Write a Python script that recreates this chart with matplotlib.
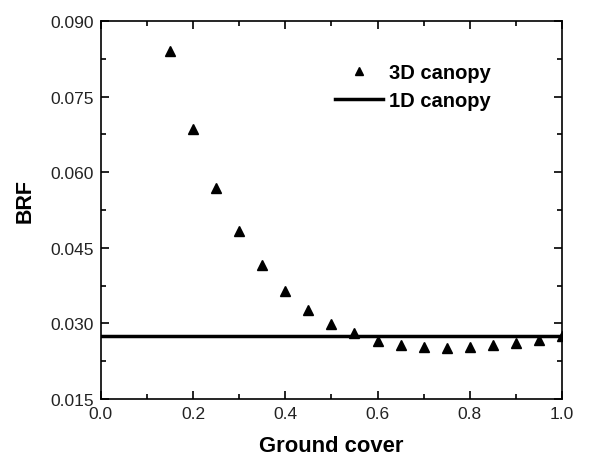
import numpy as np
import matplotlib.pyplot as plt
from matplotlib.ticker import MultipleLocator

plt.rcParams['font.family'] = ['Liberation Sans', 'DejaVu Sans']

ground_cover = [0.15, 0.20, 0.25, 0.30, 0.35, 0.40, 0.45, 0.50, 0.55,
                0.60, 0.65, 0.70, 0.75, 0.80, 0.85, 0.90, 0.95, 1.00]
brf_3d = [0.0841, 0.0686, 0.0569, 0.0483, 0.0416, 0.0364, 0.0327, 0.0299, 0.0280,
          0.0266, 0.0257, 0.0253, 0.0251, 0.0253, 0.0257, 0.0261, 0.0268, 0.0275]
brf_1d = 0.0275

fig = plt.figure(figsize=(5.9, 4.56), dpi=100)
ax = fig.add_axes([0.171, 0.1228, 0.7815, 0.829])

ax.plot(ground_cover, brf_3d, '^', color='black', markersize=7, label='3D canopy')
ax.axhline(brf_1d, color='black', lw=2.5, label='1D canopy')

ax.set_xlim(0.0, 1.0)
ax.set_ylim(0.015, 0.090)
ax.xaxis.set_major_locator(MultipleLocator(0.2))
ax.xaxis.set_minor_locator(MultipleLocator(0.1))
ax.yaxis.set_major_locator(MultipleLocator(0.015))
ax.yaxis.set_minor_locator(MultipleLocator(0.0075))
ax.xaxis.set_major_formatter(plt.FuncFormatter(lambda v, p: '%.1f' % v))
ax.yaxis.set_major_formatter(plt.FuncFormatter(lambda v, p: '%.3f' % v))
ax.tick_params(which='both', direction='in', top=True, right=True, labelsize=12.5,
               width=1.2, labelcolor='#222222')
ax.tick_params(which='major', length=6, pad=5)
ax.tick_params(which='minor', length=3.5)
for s in ax.spines.values():
    s.set_linewidth(1.2)

ax.set_xlabel('Ground cover', fontsize=15.8, fontweight='bold', va='center')
ax.xaxis.set_label_coords(0.5, -0.124)
ax.set_ylabel('BRF', fontsize=15.5, fontweight='bold', va='center')
ax.yaxis.set_label_coords(-0.164, 0.526)

leg = ax.legend(loc='upper left', bbox_to_anchor=(0.5076, 0.889), frameon=False,
                prop={'size': 14.5, 'weight': 'semibold'}, handlelength=2.4,
                handletextpad=0.3, labelspacing=0.45, borderpad=0, borderaxespad=0,
                markerscale=0.75)

fig.savefig('out.png', dpi=100)
